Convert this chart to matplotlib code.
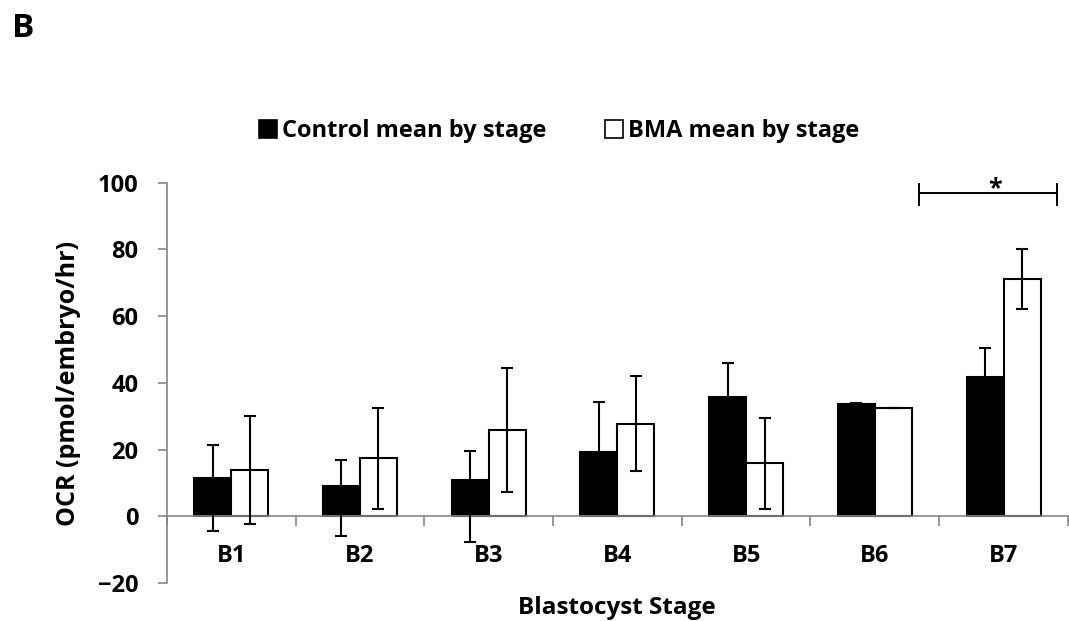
import numpy as np
import matplotlib.pyplot as plt
from matplotlib.patches import Patch

plt.rcParams['font.family'] = ['Open Sans', 'DejaVu Sans']
plt.rcParams['font.weight'] = 'bold'

stages = ['B1', 'B2', 'B3', 'B4', 'B5', 'B6', 'B7']

# mean OCR per stage and the ends of each error bar
control = [11.5, 9.0, 11.0, 19.3, 35.8, 33.7, 41.9]
control_hi = [21.5, 16.8, 19.7, 34.4, 45.8, 33.9, 50.4]
control_lo = [-4.5, -5.9, -7.8, 4.2, 25.8, 33.5, 33.4]

bma = [13.9, 17.4, 25.8, 27.7, 16.0, 32.5, 71.1]
bma_hi = [30.0, 32.4, 44.4, 42.0, 29.6, 32.5, 80.1]
bma_lo = [-2.3, 2.3, 7.2, 13.5, 2.2, 32.5, 62.0]

yticks = [-20, 0, 20, 40, 60, 80, 100]

fig = plt.figure(figsize=(10.69, 6.21), dpi=100)
ax = fig.add_axes([0.156, 0.0612, 0.843, 0.6446])

x = np.arange(len(stages))
w = 0.287
grey = '#868686'

ax.bar(x - w / 2, control, w, color='black', edgecolor='black', linewidth=1.5, zorder=2)
ax.bar(x + w / 2, bma, w, color='white', edgecolor='black', linewidth=1.5, zorder=2)

c = np.array(control)
b = np.array(bma)
ax.errorbar(x - w / 2, c, yerr=[c - np.array(control_lo), np.array(control_hi) - c],
            fmt='none', ecolor='black', elinewidth=1.5, capsize=4, capthick=1.5, zorder=3)
ax.errorbar(x + w / 2, b, yerr=[b - np.array(bma_lo), np.array(bma_hi) - b],
            fmt='none', ecolor='black', elinewidth=1.5, capsize=4, capthick=1.5, zorder=3)

ax.set_xlim(-0.5, len(stages) - 0.5)
ax.set_ylim(-20, 100)
ax.set_yticks(yticks)
ax.tick_params(axis='y', direction='out', length=6.5, width=1.2, color=grey,
               labelsize=17, pad=14)

# x axis sits on zero, ticks between stages, labels further down
ax.spines['bottom'].set_position(('data', 0))
ax.set_xticks(np.arange(-0.5, len(stages)))
ax.set_xticklabels([])
ax.tick_params(axis='x', which='major', direction='out', length=7, width=1.2, color=grey)
ax.set_xticks(x, minor=True)
ax.set_xticklabels(stages, minor=True, fontsize=17)
ax.tick_params(axis='x', which='minor', length=0, pad=20)

for s in ['top', 'right']:
    ax.spines[s].set_visible(False)
for s in ['left', 'bottom']:
    ax.spines[s].set_color(grey)
    ax.spines[s].set_linewidth(1.2)

fig.text(0.577, 0.012, 'Blastocyst Stage', ha='center', va='baseline', fontsize=17.5)
fig.text(0.064, 0.383, 'OCR (pmol/embryo/hr)', ha='center', va='center',
         rotation=90, fontsize=18)
fig.text(0.011, 0.9404, 'B', ha='left', va='baseline', fontsize=24)

# significance bracket over B7
ax.plot([5.34, 6.415], [97.0, 97.0], color='black', lw=1.4, clip_on=False)
ax.plot([5.34, 5.34], [93.2, 99.6], color='black', lw=1.4, clip_on=False)
ax.plot([6.415, 6.415], [93.2, 99.6], color='black', lw=1.4, clip_on=False)
ax.text(5.93, 96.2, '*', ha='center', va='baseline', fontsize=18, clip_on=False)

handles = [Patch(facecolor='black', edgecolor='black', linewidth=1.2),
           Patch(facecolor='white', edgecolor='black', linewidth=1.2)]
fig.legend(handles, ['Control mean by stage', 'BMA mean by stage'], ncol=2,
           loc='center', bbox_to_anchor=(0.523, 0.789), frameon=False, fontsize=17,
           handlelength=0.76, handleheight=0.76, handletextpad=0.22, columnspacing=2.45)

fig.savefig('out.png', dpi=100)
